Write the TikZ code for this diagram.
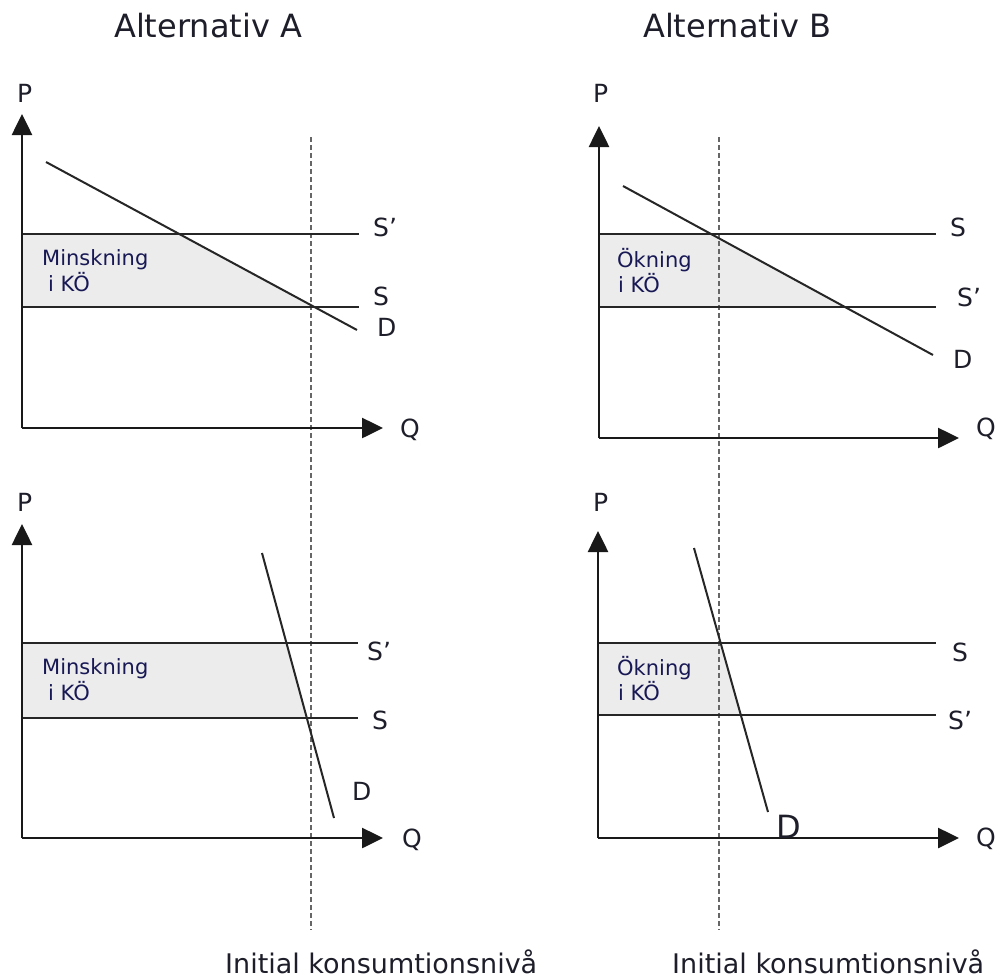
\documentclass[tikz,border=0pt]{standalone}
\usepackage{fontspec}
\setmainfont{DejaVu Sans}
\usetikzlibrary{arrows.meta}
\definecolor{areagray}{HTML}{ECECEC}
\definecolor{txt}{HTML}{1E1E2A}
\tikzset{
  axisline/.style={line width=2.6pt,draw=black!90,-{Triangle[length=21pt,width=20pt]}},
  supplyline/.style={line width=2pt,draw=black!85},
  demandline/.style={line width=2pt,draw=black!85},
  refline/.style={line width=1.6pt,draw=black!60,dash pattern=on 5pt off 3pt},
  area/.style={fill=areagray},
  lbl/.style={inner sep=0pt,anchor=base west,text=txt,font=\fontsize{25}{25}\selectfont},
  arealbl/.style={inner sep=0pt,anchor=base west,text=txt!80!blue,font=\fontsize{21}{21}\selectfont},
  titlelbl/.style={inner sep=0pt,anchor=base west,text=txt,font=\fontsize{32}{32}\selectfont},
  footlbl/.style={inner sep=0pt,anchor=base west,text=txt,font=\fontsize{27}{27}\selectfont},
}
\begin{document}
\begin{tikzpicture}[x=1pt,y=-1pt]
\useasboundingbox (0,0) rectangle (999,978);
% titles
\node[titlelbl] (tA) at (114,37) {Alternativ A};
\node[titlelbl] (tB) at (643,37) {Alternativ B};
% reference dashed lines
\coordinate (rAt) at (311,137); \coordinate (rAb) at (311,930);
\coordinate (rBt) at (719,137); \coordinate (rBb) at (719,930);
% ---------- top left ----------
\coordinate (o1) at (22,428); \coordinate (p1) at (22,114); \coordinate (q1) at (383,428);
\coordinate (s1a) at (22,234); \coordinate (s1b) at (359,234);
\coordinate (s1c) at (22,307); \coordinate (s1d) at (359,307);
\coordinate (d1a) at (46,162); \coordinate (d1b) at (357,330);
\fill[area] (s1a) -- (intersection of s1a--s1b and d1a--d1b) -- (intersection of s1c--s1d and d1a--d1b) -- (s1c) -- cycle;
% ---------- top right ----------
\coordinate (o2) at (599,438); \coordinate (p2) at (599,126); \coordinate (q2) at (959,438);
\coordinate (s2a) at (599,234); \coordinate (s2b) at (936,234);
\coordinate (s2c) at (599,307); \coordinate (s2d) at (936,307);
\coordinate (d2a) at (623,186); \coordinate (d2b) at (933,355);
\fill[area] (s2a) -- (intersection of s2a--s2b and d2a--d2b) -- (intersection of s2c--s2d and d2a--d2b) -- (s2c) -- cycle;
% ---------- bottom left ----------
\coordinate (o3) at (22,838); \coordinate (p3) at (22,524); \coordinate (q3) at (383,838);
\coordinate (s3a) at (22,643); \coordinate (s3b) at (358,643);
\coordinate (s3c) at (22,718); \coordinate (s3d) at (358,718);
\coordinate (d3a) at (262,553); \coordinate (d3b) at (334,818);
\fill[area] (s3a) -- (intersection of s3a--s3b and d3a--d3b) -- (intersection of s3c--s3d and d3a--d3b) -- (s3c) -- cycle;
% ---------- bottom right ----------
\coordinate (o4) at (598,838); \coordinate (p4) at (598,531); \coordinate (q4) at (959,838);
\coordinate (s4a) at (598,643); \coordinate (s4b) at (936,643);
\coordinate (s4c) at (598,715); \coordinate (s4d) at (936,715);
\coordinate (d4a) at (694,548); \coordinate (d4b) at (768,812);
\fill[area] (s4a) -- (intersection of s4a--s4b and d4a--d4b) -- (intersection of s4c--s4d and d4a--d4b) -- (s4c) -- cycle;
% dashed
\draw[refline] (rAt) -- (rAb);
\draw[refline] (rBt) -- (rBb);
% lines
\foreach \i in {1,2,3,4}{
  \draw[supplyline] (s\i a) -- (s\i b);
  \draw[supplyline] (s\i c) -- (s\i d);
  \draw[demandline] (d\i a) -- (d\i b);
  \draw[axisline] (o\i) -- (p\i);
  \draw[axisline] (o\i) -- (q\i);
}
% labels top left
\node[lbl] (P1) at (17,102) {P};
\node[lbl] (Sp1) at (373,236) {S’};
\node[lbl] (S1) at (373,305) {S};
\node[lbl] (D1) at (377,336) {D};
\node[lbl] (Q1) at (400,437) {Q};
\node[arealbl] (m1) at (42,265) {Minskning};
\node[arealbl] (k1) at (48,291) {i KÖ};
% labels top right
\node[lbl] (P2) at (593,102) {P};
\node[lbl] (S2) at (950,236) {S};
\node[lbl] (Sp2) at (957,306) {S’};
\node[lbl] (D2) at (953,368) {D};
\node[lbl] (Q2) at (976,436) {Q};
\node[arealbl] (m2) at (617,267) {Ökning};
\node[arealbl] (k2) at (618,292) {i KÖ};
% labels bottom left
\node[lbl] (P3) at (17,511) {P};
\node[lbl] (Sp3) at (367,660) {S’};
\node[lbl] (S3) at (372,729) {S};
\node[lbl] (D3) at (352,800) {D};
\node[lbl] (Q3) at (402,847) {Q};
\node[arealbl] (m3) at (42,674) {Minskning};
\node[arealbl] (k3) at (48,700) {i KÖ};
% labels bottom right
\node[lbl] (P4) at (593,511) {P};
\node[lbl] (S4) at (952,661) {S};
\node[lbl] (Sp4) at (948,729) {S’};
\node[lbl,font=\fontsize{32}{32}\selectfont] (D4) at (776,838) {D};
\node[lbl] (Q4) at (976,846) {Q};
\node[arealbl] (m4) at (617,675) {Ökning};
\node[arealbl] (k4) at (618,700) {i KÖ};
% footer
\node[footlbl] (fA) at (225,973) {Initial konsumtionsnivå};
\node[footlbl] (fB) at (672,973) {Initial konsumtionsnivå};
\end{tikzpicture}
\end{document}
